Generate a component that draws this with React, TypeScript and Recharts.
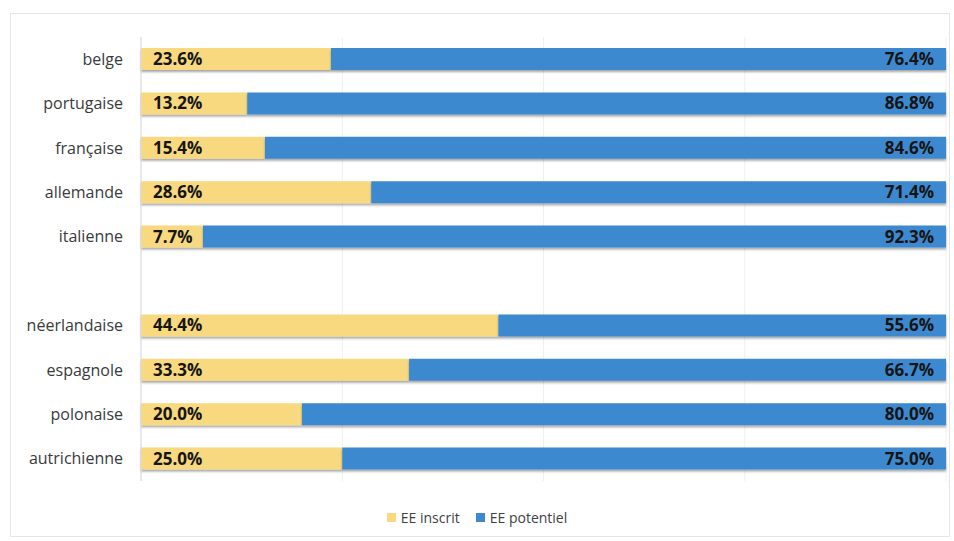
import { BarChart, Bar, XAxis, YAxis, CartesianGrid, LabelList } from "recharts";

const nationalities = ["belge", "portugaise", "française", "allemande", "italienne", " ", "néerlandaise", "espagnole", "polonaise", "autrichienne"];
const inscrit = [23.6, 13.2, 15.4, 28.6, 7.7, null, 44.4, 33.3, 20.0, 25.0];
const potentiel = [76.4, 86.8, 84.6, 71.4, 92.3, null, 55.6, 66.7, 80.0, 75.0];
const seriesNames = ["EE inscrit", "EE potentiel"];
const xTicks = [0, 25, 50, 75, 100];

const YELLOW = "#F8D97F";
const BLUE = "#3C89CF";
const FONT = "'Open Sans', sans-serif";

const data = nationalities.map((name, i) => ({
  name,
  inscrit: inscrit[i],
  potentiel: potentiel[i],
}));

const fmt = (v: any) => (v == null ? "" : `${Number(v).toFixed(1)}%`);
const valueStyle = { fill: "#151515", fontSize: 17, fontWeight: 700, fontFamily: FONT };

export default function App() {
  return (
    <div style={{ position: "absolute", left: 0, top: 0, width: 954, height: 541, background: "#fff", fontFamily: FONT }}>
      <div style={{ position: "absolute", left: 10, top: 13, width: 940, height: 524, border: "1px solid #e6e6e6", boxSizing: "border-box" }} />
      <BarChart
        width={954}
        height={541}
        data={data}
        layout="vertical"
        margin={{ top: 37, right: 8, bottom: 60, left: 10 }}
        barCategoryGap={0}
      >
        <defs>
          <filter id="barShadow" x="-5%" y="-20%" width="110%" height="160%">
            <feDropShadow dx="0" dy="2" stdDeviation="1" floodColor="#000" floodOpacity="0.35" />
          </filter>
        </defs>
        <CartesianGrid horizontal={false} stroke="#f0f0f0" />
        <XAxis type="number" domain={[0, 100]} ticks={xTicks} hide />
        <YAxis
          type="category"
          dataKey="name"
          width={131}
          tickLine={false}
          axisLine={{ stroke: "#d9d9d9" }}
          tickMargin={12}
          tick={{ fill: "#3a3a3a", fontSize: 16, fontFamily: FONT }}
        />
        <Bar dataKey="inscrit" stackId="a" fill={YELLOW} barSize={22} filter="url(#barShadow)" isAnimationActive={false}>
          <LabelList dataKey="inscrit" position="insideLeft" offset={12} formatter={fmt} style={valueStyle} />
        </Bar>
        <Bar dataKey="potentiel" stackId="a" fill={BLUE} barSize={22} filter="url(#barShadow)" isAnimationActive={false}>
          <LabelList dataKey="potentiel" position="insideRight" offset={12} formatter={fmt} style={valueStyle} />
        </Bar>
      </BarChart>
      <div style={{ position: "absolute", top: 508, left: 0, width: 954, display: "flex", justifyContent: "center", gap: 16, fontSize: 14, color: "#404040" }}>
        {seriesNames.map((n, i) => (
          <div key={n} style={{ display: "flex", alignItems: "center", gap: 5 }}>
            <span style={{ width: 9, height: 9, background: i === 0 ? YELLOW : BLUE, display: "inline-block" }} />
            <span>{n}</span>
          </div>
        ))}
      </div>
    </div>
  );
}
